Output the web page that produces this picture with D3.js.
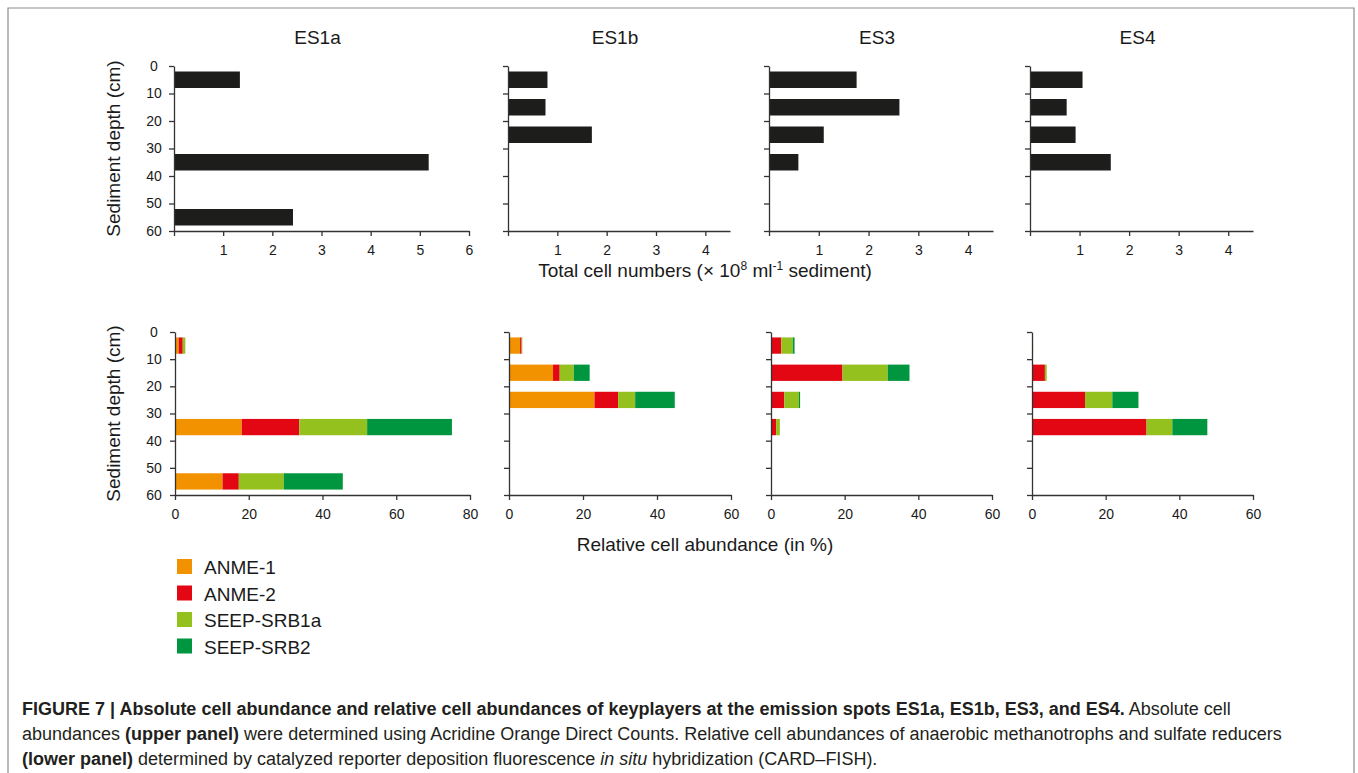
<!DOCTYPE html>
<html>
<head>
<meta charset="utf-8">
<script src="https://cdn.jsdelivr.net/npm/d3@7"></script>
<style>
  body { margin: 0; background: #fff; }
  text { font-family: "Liberation Sans", Arial, sans-serif; fill: #1a1a1a; }
  .axis path, .axis line { stroke: #333; stroke-width: 1.3; }
  .axis text { font-size: 14px; fill: #1a1a1a; }
</style>
</head>
<body>
<svg width="1358" height="773"></svg>
<script>
// **** data ****
var sites = ["ES1a", "ES1b", "ES3", "ES4"];
var depthTops = [0, 10, 20, 30, 40, 50];
var depthTicks = [0, 10, 20, 30, 40, 50, 60];
var groups = ["ANME-1", "ANME-2", "SEEP-SRB1a", "SEEP-SRB2"];
var groupColors = ["#f39200", "#e30613", "#95c11f", "#009640"];

// total cell numbers (x 10^8 per ml sediment), one value per 10 cm interval
var cellsES1a = [1.34, null, null, 5.18, null, 2.42];
var cellsES1b = [0.80, 0.76, 1.70, null, null, null];
var cellsES3  = [1.76, 2.62, 1.10, 0.59, null, null];
var cellsES4  = [1.06, 0.74, 0.92, 1.63, null, null];

// relative abundance in % : ANME-1, ANME-2, SEEP-SRB1a, SEEP-SRB2
var relES1a = [[1.0, 1.1, 0.7, 0], null, null, [18.1, 15.6, 18.4, 23.0], null, [12.9, 4.4, 12.2, 16.0]];
var relES1b = [[3.0, 0.4, 0.2, 0], [11.9, 1.8, 3.8, 4.3], [23.1, 6.4, 4.6, 10.7], null, null, null];
var relES3  = [[0, 2.8, 3.1, 0.5], [0, 19.4, 12.3, 5.9], [0, 3.6, 4.0, 0.3], [0, 1.4, 1.0, 0], null, null];
var relES4  = [[0, 0, 0.3, 0], [0, 3.5, 0.5, 0], [0, 14.4, 7.4, 7.1], [0, 31.1, 7.0, 9.5], null, null];

var cellTicks = [[0, 1, 2, 3, 4, 5, 6], [0, 1, 2, 3, 4], [0, 1, 2, 3, 4], [0, 1, 2, 3, 4]];
var cellMax = [6, 4.5, 4.5, 4.5];
var relTicks = [[0, 20, 40, 60, 80], [0, 20, 40, 60], [0, 20, 40, 60], [0, 20, 40, 60]];
var relMax = [80, 60, 60, 60];

var cellsAll = [cellsES1a, cellsES1b, cellsES3, cellsES4];
var relAll = [relES1a, relES1b, relES3, relES4];

// **** layout ****
var topLeft = [174, 508, 769, 1030], topRight = [469, 730, 993, 1253];
var botLeft = [175, 509, 771, 1032], botRight = [470, 731, 992, 1253];

var svg = d3.select("svg");

// frame
svg.append("path")
    .attr("d", "M8,773V8H1354V773")
    .attr("fill", "none")
    .attr("stroke", "#8c8c8c")
    .attr("stroke-width", 1.2);

var yTop = d3.scaleLinear().domain([0, 60]).range([66, 231]);
var yBot = d3.scaleLinear().domain([0, 60]).range([332, 495]);

sites.forEach(function(site, i) {
    // ---- upper panel ----
    var x = d3.scaleLinear().domain([0, cellMax[i]]).range([topLeft[i], topRight[i]]);
    var rows = depthTops.map(function(t, j) { return {top: t, v: cellsAll[i][j]}; })
        .filter(function(d) { return d.v != null; });

    svg.append("g").selectAll("rect")
        .data(rows)
        .enter()
        .append("rect")
        .attr("x", x(0))
        .attr("y", function(d) { return yTop(d.top + 2); })
        .attr("width", function(d) { return x(d.v) - x(0); })
        .attr("height", function(d) { return yTop(d.top + 8) - yTop(d.top + 2); })
        .attr("fill", "#1d1d1b");

    var gy = svg.append("g").attr("class", "axis")
        .attr("transform", "translate(" + topLeft[i] + ",0)")
        .call(d3.axisLeft(yTop).tickValues(depthTicks).tickSize(5).tickSizeOuter(0)
            .tickFormat(i == 0 ? d3.format("d") : function() { return ""; }));
    gy.selectAll("text").attr("x", -20).attr("text-anchor", "middle");

    svg.append("g").attr("class", "axis")
        .attr("transform", "translate(0," + yTop(60) + ")")
        .call(d3.axisBottom(x).tickValues(cellTicks[i]).tickSize(5).tickSizeOuter(0)
            .tickFormat(function(d) { return d == 0 ? "" : d; }))
        .selectAll("text").attr("dy", "1.15em");

    svg.append("text")
        .attr("x", (topLeft[i] + topRight[i]) / 2 - 4)
        .attr("y", 44)
        .attr("text-anchor", "middle")
        .style("font-size", "19px")
        .text(site);

    // ---- lower panel ----
    var xb = d3.scaleLinear().domain([0, relMax[i]]).range([botLeft[i], botRight[i]]);
    var relRows = [];
    depthTops.forEach(function(t, j) {
        var r = relAll[i][j];
        if (r == null) return;
        var o = {top: t};
        groups.forEach(function(g, k) { o[g] = r[k]; });
        relRows.push(o);
    });
    var stacked = d3.stack().keys(groups)(relRows);

    svg.append("g").selectAll("g")
        .data(stacked)
        .enter()
        .append("g")
        .attr("fill", function(d, k) { return groupColors[k]; })
        .selectAll("rect")
        .data(function(d) { return d; })
        .enter()
        .append("rect")
        .attr("x", function(d) { return xb(d[0]); })
        .attr("y", function(d) { return yBot(d.data.top + 2); })
        .attr("width", function(d) { return xb(d[1]) - xb(d[0]); })
        .attr("height", function(d) { return yBot(d.data.top + 8) - yBot(d.data.top + 2); });

    var gyb = svg.append("g").attr("class", "axis")
        .attr("transform", "translate(" + botLeft[i] + ",0)")
        .call(d3.axisLeft(yBot).tickValues(depthTicks).tickSize(5).tickSizeOuter(0)
            .tickFormat(i == 0 ? d3.format("d") : function() { return ""; }));
    gyb.selectAll("text").attr("x", -21).attr("text-anchor", "middle");

    svg.append("g").attr("class", "axis")
        .attr("transform", "translate(0," + yBot(60) + ")")
        .call(d3.axisBottom(xb).tickValues(relTicks[i]).tickSize(5).tickSizeOuter(0))
        .selectAll("text").attr("dy", "1.15em");
});

// y axis titles
[yTop, yBot].forEach(function(y) {
    svg.append("text")
        .attr("transform", "translate(120," + (y(0) + y(60)) / 2 + ") rotate(-90)")
        .attr("text-anchor", "middle")
        .style("font-size", "19px")
        .text("Sediment depth (cm)");
});

// x axis titles
var t1 = svg.append("text")
    .attr("x", 705).attr("y", 277)
    .attr("text-anchor", "middle")
    .style("font-size", "19px");
t1.append("tspan").text("Total cell numbers (\u00d7 10");
t1.append("tspan").attr("dy", -7).style("font-size", "12px").text("8");
t1.append("tspan").attr("dy", 7).text(" ml");
t1.append("tspan").attr("dy", -7).style("font-size", "12px").text("-1");
t1.append("tspan").attr("dy", 7).text(" sediment)");

svg.append("text")
    .attr("x", 705).attr("y", 551)
    .attr("text-anchor", "middle")
    .style("font-size", "19px")
    .text("Relative cell abundance (in %)");

// legend
var legend = svg.append("g").selectAll("g")
    .data(groups)
    .enter()
    .append("g")
    .attr("transform", function(d, k) { return "translate(177," + (559 + k * 26.5) + ")"; });
legend.append("rect")
    .attr("width", 15).attr("height", 15)
    .attr("fill", function(d, k) { return groupColors[k]; });
legend.append("text")
    .attr("x", 27).attr("y", 15)
    .style("font-size", "19px")
    .text(function(d) { return d; });

// caption
var capLines = [
    [["b", "FIGURE 7 | Absolute cell abundance and relative cell abundances of keyplayers at the emission spots ES1a, ES1b, ES3, and ES4."], ["n", " Absolute cell"]],
    [["n", "abundances "], ["b", "(upper panel)"], ["n", " were determined using Acridine Orange Direct Counts. Relative cell abundances of anaerobic methanotrophs and sulfate reducers"]],
    [["b", "(lower panel)"], ["n", " determined by catalyzed reporter deposition fluorescence "], ["i", "in situ"], ["n", " hybridization (CARD\u2013FISH)."]]
];
capLines.forEach(function(line, li) {
    var t = svg.append("text")
        .attr("x", 22).attr("y", 715 + li * 25)
        .style("font-size", "18px")
        .style("fill", "#231f20");
    line.forEach(function(p) {
        t.append("tspan")
            .style("font-weight", p[0] == "b" ? "bold" : "normal")
            .style("font-style", p[0] == "i" ? "italic" : "normal")
            .text(p[1]);
    });
});
</script>
</body>
</html>
